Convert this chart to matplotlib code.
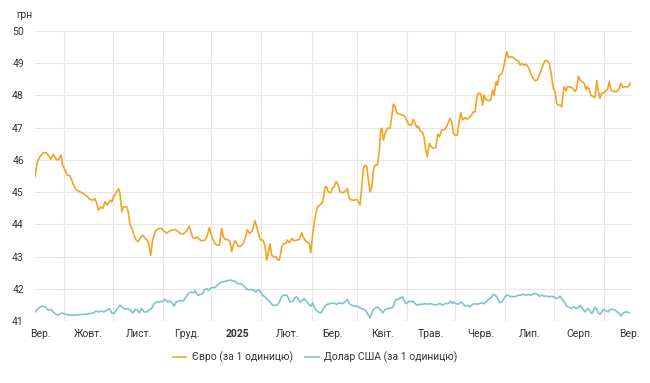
import numpy as np
import matplotlib
matplotlib.use("Agg")
import matplotlib.pyplot as plt
import matplotlib.dates as mdates
from matplotlib.lines import Line2D
import datetime as dt

plt.rcParams['font.family'] = ['Roboto', 'DejaVu Sans']

# days since 2024-09-01 and rate values (UAH)
euro_days = [-3.1, -1.7, 0, 2.0, 4.1, 5.8, 6.6, 8.2, 9.9, 11.3, 13.0, 14.0, 15.5, 16.9, 18.6, 19.6, 21.0, 22.7,
             24.8, 26.8, 28.9, 30.9, 33.0, 34.0, 35.1, 36.1, 37.6, 38.8, 40.2, 41.6, 43.3, 44.4, 45.4, 47.0, 48.5,
             49.5, 50.6, 51.5, 53.7, 54.6, 55.7, 56.7, 58.2, 59.4, 60.8, 62.3, 63.9, 65.0, 66.4, 67.6, 68.5, 69.7,
             71.2, 73.2, 75.3, 76.3, 77.4, 78.4, 79.4, 81.5, 83.5, 85.6, 86.6, 88.7, 90.8, 92.4, 93.3, 94.5, 95.9,
             97.3, 98.6, 100.1, 102.1, 103.2, 104.8, 106.3, 107.2, 108.3, 109.7, 111.0, 112.4, 113.4, 114.5, 115.9,
             117.6, 118.6, 119.6, 120.7, 121.7, 122.7, 124.2, 125.8, 127.5, 128.3, 129.5, 131.0, 132.0, 133.0,
             134.1, 135.1, 136.1, 137.8, 139.2, 140.3, 141.3, 142.3, 143.4, 144.8, 146.0, 146.8, 148.1, 149.6,
             150.6, 152.2, 153.0, 154.3, 155.8, 157.2, 158.8, 160.5, 161.9, 162.9, 164.0, 165.0, 166.6, 167.5,
             168.8, 170.2, 171.6, 173.3, 175.0, 176.4, 177.4, 178.4, 179.9, 181.1, 182.1, 183.2, 184.2, 185.6,
             187.3, 188.7, 190.2, 191.4, 192.9, 194.3, 196.0, 197.0, 198.0, 199.1, 200.1, 201.1, 202.2, 203.2,
             204.2, 205.3, 206.3, 207.4, 208.8, 210.0, 210.8, 211.5, 212.5, 213.5, 214.9, 216.6, 217.6, 218.7,
             219.7, 220.7, 222.3, 224.4, 225.9, 227.3, 228.5, 230.0, 231.0, 232.1, 233.1, 234.1, 235.1, 236.4,
             237.6, 238.7, 239.7, 240.9, 242.0, 243.4, 245.0, 246.1, 247.1, 248.6, 250.6, 252.0, 253.7, 254.8,
             255.8, 256.8, 258.2, 259.5, 260.3, 261.6, 263.0, 264.0, 265.7, 267.1, 268.1, 269.2, 270.2, 271.2,
             272.7, 273.9, 274.8, 276.0, 277.4, 278.9, 280.1, 280.9, 282.2, 283.0, 284.2, 285.7, 286.7, 287.7,
             288.8, 289.8, 291.3, 292.9, 294.6, 296.0, 297.0, 298.1, 299.5, 300.7, 302.2, 303.2, 304.9, 306.3,
             307.7, 309.4, 311.1, 312.5, 313.9, 315.2, 316.6, 317.6, 318.7, 319.7, 320.7, 321.8, 322.8, 323.5,
             324.3, 325.5, 326.3, 328.0, 329.6, 331.1, 332.1, 333.1, 334.2, 335.2, 336.6, 337.9, 338.7, 339.9,
             340.8, 342.4, 343.4, 344.5, 345.5, 346.5, 347.6, 348.6, 349.6, 351.1, 352.3, 353.2, 354.8, 356.9,
             358.5, 359.4, 360.6, 362.0, 364.1, 365.1]
euro_vals = [45.48, 45.94, 46.10, 46.22, 46.22, 46.10, 46.02, 46.18, 46.02, 46.00, 46.15, 45.84, 45.68, 45.53,
             45.50, 45.37, 45.19, 45.06, 45.01, 44.96, 44.88, 44.77, 44.75, 44.80, 44.65, 44.44, 44.54, 44.49,
             44.70, 44.60, 44.75, 44.70, 44.85, 44.96, 45.11, 44.96, 44.39, 44.54, 44.54, 44.39, 43.98, 43.90,
             43.66, 43.51, 43.46, 43.61, 43.66, 43.56, 43.51, 43.32, 43.04, 43.51, 43.77, 43.87, 43.87, 43.80,
             43.77, 43.72, 43.77, 43.82, 43.84, 43.77, 43.72, 43.70, 43.80, 43.94, 43.77, 43.59, 43.56, 43.61,
             43.53, 43.49, 43.51, 43.61, 43.90, 43.61, 43.51, 43.39, 43.35, 43.35, 43.87, 43.61, 43.53, 43.53,
             43.46, 43.15, 43.35, 43.49, 43.41, 43.32, 43.32, 43.41, 43.66, 43.84, 43.72, 43.77, 43.92, 44.11,
             43.92, 43.74, 43.53, 43.51, 43.35, 42.89, 43.15, 43.39, 43.04, 42.99, 42.99, 42.91, 42.89, 43.30,
             43.39, 43.41, 43.51, 43.43, 43.56, 43.49, 43.51, 43.53, 43.74, 43.61, 43.51, 43.46, 43.41, 43.12,
             43.72, 44.22, 44.54, 44.60, 44.70, 45.16, 45.16, 45.01, 44.98, 45.14, 45.16, 45.32, 45.27, 45.01,
             44.98, 45.01, 45.11, 44.80, 44.75, 44.75, 44.77, 44.70, 44.60, 45.17, 45.74, 45.84, 45.79, 45.37,
             45.01, 45.17, 45.68, 45.84, 45.84, 46.30, 46.93, 46.98, 46.61, 46.82, 46.98, 46.98, 47.34, 47.73,
             47.65, 47.46, 47.42, 47.39, 47.34, 47.18, 47.08, 47.08, 47.26, 47.13, 47.01, 47.05, 46.90, 46.87,
             46.72, 46.30, 46.10, 46.51, 46.41, 46.36, 46.39, 46.80, 46.72, 46.93, 46.95, 47.08, 47.29, 47.18,
             46.82, 46.77, 46.77, 47.24, 47.46, 47.24, 47.32, 47.26, 47.32, 47.39, 47.49, 47.49, 47.91, 48.07,
             48.05, 47.70, 48.01, 47.86, 47.84, 47.86, 48.17, 48.01, 48.43, 48.32, 48.63, 48.68, 48.84, 49.10,
             49.36, 49.18, 49.20, 49.18, 49.10, 49.08, 48.94, 48.99, 48.94, 48.97, 48.87, 48.74, 48.53, 48.46,
             48.48, 48.69, 48.94, 49.08, 49.08, 48.98, 48.58, 48.22, 48.12, 47.75, 47.70, 47.70, 47.65, 48.01,
             48.27, 48.14, 48.27, 48.27, 48.22, 48.12, 48.22, 48.60, 48.48, 48.43, 48.38, 48.19, 48.27, 48.17,
             48.01, 47.96, 47.94, 48.46, 48.12, 47.91, 48.07, 48.07, 48.12, 48.19, 48.43, 48.17, 48.12, 48.12,
             48.22, 48.38, 48.25, 48.27, 48.27, 48.38]

usd_days = [-3.1, -1.1, 1.1, 3.1, 5.1, 6.6, 8.2, 9.9, 11.3, 13.4, 15.5, 18.6, 21.7, 24.8, 27.8, 30.9, 33.0, 34.7,
            36.1, 38.2, 39.6, 41.6, 42.9, 44.4, 45.8, 47.5, 49.5, 51.2, 52.6, 54.0, 55.7, 57.4, 58.8, 60.2, 61.4,
            62.9, 64.4, 66.0, 67.6, 69.1, 70.5, 72.2, 74.3, 75.9, 77.4, 78.8, 80.4, 82.1, 82.9, 84.2, 85.6, 87.1,
            88.7, 90.3, 91.8, 93.3, 94.8, 95.9, 97.0, 98.0, 99.4, 100.7, 101.5, 103.2, 104.2, 105.2, 106.9, 108.3,
            109.7, 111.4, 113.1, 115.1, 117.6, 120.0, 121.3, 122.1, 123.8, 124.8, 125.8, 127.5, 128.9, 130.4,
            132.0, 133.7, 135.1, 136.6, 137.8, 139.2, 140.6, 142.3, 144.0, 145.4, 146.8, 148.1, 149.6, 151.0,
            152.7, 153.7, 154.7, 156.4, 157.8, 158.8, 159.8, 160.9, 161.9, 163.4, 164.6, 166.0, 167.5, 168.8,
            169.6, 170.8, 172.2, 173.7, 174.9, 176.4, 177.8, 179.5, 181.5, 183.6, 185.2, 187.3, 188.7, 190.2,
            191.4, 192.9, 194.3, 196.0, 197.6, 199.1, 200.5, 201.7, 203.2, 204.2, 205.3, 206.3, 207.9, 209.3,
            210.8, 212.1, 213.5, 214.9, 216.6, 218.3, 219.1, 220.3, 221.7, 223.2, 224.4, 225.2, 226.5, 227.9,
            229.0, 230.0, 231.0, 232.1, 233.5, 235.1, 236.8, 238.2, 239.7, 241.3, 243.0, 244.4, 245.9, 247.5,
            249.2, 250.6, 252.0, 253.3, 254.1, 255.4, 256.2, 257.4, 258.9, 260.3, 261.6, 263.0, 264.4, 265.7,
            267.1, 268.6, 270.2, 271.8, 273.3, 274.8, 276.0, 277.4, 278.5, 279.5, 280.5, 281.6, 282.6, 283.6,
            284.7, 285.7, 286.7, 287.7, 288.8, 289.8, 290.8, 291.9, 292.9, 294.6, 296.0, 297.5, 299.1, 300.7,
            302.2, 303.2, 304.9, 306.3, 307.7, 309.0, 310.5, 311.9, 313.6, 315.2, 316.6, 318.1, 319.3, 320.7,
            321.8, 322.8, 323.8, 324.8, 325.9, 327.5, 329.0, 330.4, 331.7, 333.1, 334.2, 335.2, 336.2, 337.3,
            338.3, 339.3, 340.3, 341.4, 342.4, 343.4, 344.5, 345.5, 346.5, 347.6, 348.6, 350.3, 351.7, 352.7,
            354.4, 355.8, 357.2, 358.5, 359.4, 360.6, 362.0, 363.4, 364.6]
usd_vals = [41.28, 41.39, 41.46, 41.44, 41.34, 41.36, 41.28, 41.21, 41.18, 41.25, 41.21, 41.18, 41.18, 41.20,
            41.21, 41.23, 41.25, 41.31, 41.28, 41.31, 41.28, 41.34, 41.39, 41.25, 41.23, 41.36, 41.49, 41.42,
            41.36, 41.39, 41.34, 41.25, 41.36, 41.34, 41.25, 41.39, 41.28, 41.28, 41.34, 41.39, 41.54, 41.59,
            41.59, 41.62, 41.67, 41.59, 41.62, 41.54, 41.46, 41.59, 41.62, 41.64, 41.62, 41.75, 41.85, 41.90,
            41.87, 41.94, 41.83, 41.80, 41.83, 41.85, 41.96, 42.01, 41.94, 42.01, 42.04, 42.04, 42.11, 42.19,
            42.21, 42.24, 42.27, 42.24, 42.21, 42.16, 42.16, 42.14, 42.11, 42.01, 41.96, 41.98, 41.96, 41.90,
            41.98, 41.90, 41.80, 41.75, 41.67, 41.59, 41.49, 41.49, 41.49, 41.59, 41.77, 41.80, 41.80, 41.70,
            41.59, 41.62, 41.73, 41.75, 41.67, 41.59, 41.62, 41.70, 41.62, 41.54, 41.46, 41.57, 41.44, 41.34,
            41.28, 41.25, 41.34, 41.46, 41.52, 41.54, 41.56, 41.52, 41.56, 41.54, 41.59, 41.67, 41.54, 41.49,
            41.46, 41.46, 41.42, 41.39, 41.36, 41.31, 41.18, 41.10, 41.23, 41.36, 41.42, 41.42, 41.34, 41.25,
            41.36, 41.39, 41.39, 41.42, 41.54, 41.67, 41.67, 41.73, 41.75, 41.64, 41.54, 41.59, 41.62, 41.59,
            41.62, 41.54, 41.49, 41.52, 41.52, 41.54, 41.52, 41.54, 41.52, 41.49, 41.52, 41.54, 41.49, 41.54,
            41.54, 41.56, 41.62, 41.54, 41.59, 41.54, 41.52, 41.59, 41.54, 41.46, 41.49, 41.44, 41.49, 41.54,
            41.52, 41.54, 41.56, 41.54, 41.59, 41.67, 41.70, 41.75, 41.83, 41.80, 41.75, 41.64, 41.57, 41.59,
            41.67, 41.75, 41.80, 41.80, 41.75, 41.77, 41.75, 41.77, 41.80, 41.80, 41.83, 41.80, 41.83, 41.80,
            41.83, 41.85, 41.83, 41.77, 41.80, 41.77, 41.77, 41.75, 41.77, 41.75, 41.70, 41.73, 41.77, 41.70,
            41.62, 41.57, 41.46, 41.42, 41.39, 41.44, 41.39, 41.42, 41.49, 41.42, 41.34, 41.28, 41.36, 41.39,
            41.31, 41.23, 41.31, 41.42, 41.36, 41.25, 41.21, 41.28, 41.36, 41.31, 41.28, 41.36, 41.36, 41.34,
            41.28, 41.23, 41.15, 41.23, 41.28, 41.28, 41.25]

month_labels = ["Вер.", "Жовт.", "Лист.", "Груд.", "2025", "Лют.", "Бер.", "Квіт.",
                "Трав.", "Черв.", "Лип.", "Серп.", "Вер."]
y_ticks = [41, 42, 43, 44, 45, 46, 47, 48, 49, 50]
series_names = ["Євро (за 1 одиницю)", "Долар США (за 1 одиницю)"]

EURO_C = "#F2A422"
USD_C = "#7DC6C8"
TXT = "#333333"
GRID = "#E6E6E6"

base = mdates.date2num(dt.datetime(2024, 9, 1))
ex = base + np.array(euro_days)
ux = base + np.array(usd_days)

fig = plt.figure(figsize=(6.5, 3.83), dpi=100)
ax = fig.add_axes([35 / 650, 62 / 383, 597 / 650, 290 / 383])

ax.plot(ex, euro_vals, color=EURO_C, lw=1.2, solid_joinstyle='round', zorder=3)
ax.plot(ux, usd_vals, color=USD_C, lw=1.2, solid_joinstyle='round', zorder=3)

ax.set_ylim(41, 50)
ax.set_xlim(base - 3.1, base + 366.3)

month_starts = [mdates.date2num(dt.datetime(2024 + (8 + i) // 12, (8 + i) % 12 + 1, 1)) for i in range(13)]
mid_months = [mdates.date2num(dt.datetime(2024 + (8 + i) // 12, (8 + i) % 12 + 1, 16)) for i in range(12)]

ax.set_xticks(month_starts)
ax.set_xticklabels(month_labels)
for lbl in ax.get_xticklabels():
    if lbl.get_text() == "2025":
        lbl.set_fontweight("bold")
ax.set_yticks(y_ticks)
ax.set_yticklabels([str(v) for v in y_ticks])

for v in y_ticks:
    ax.axhline(v, color=GRID, lw=0.8, zorder=1)
for m in mid_months:
    ax.axvline(m, color=GRID, lw=0.8, zorder=1)

ax.tick_params(axis='both', length=0, labelsize=7.5, colors=TXT)
ax.tick_params(axis='x', pad=6)
ax.tick_params(axis='y', pad=8)
for s in ax.spines.values():
    s.set_visible(False)

fig.text(16 / 650, 1 - 15 / 383, "грн", fontsize=7.5, color=TXT, ha='left', va='center')

handles = [Line2D([0], [0], color=EURO_C, lw=1.2), Line2D([0], [0], color=USD_C, lw=1.2)]
fig.legend(handles, series_names, loc='center', bbox_to_anchor=(315 / 650, 1 - 357 / 383),
           ncol=2, frameon=False, fontsize=7.5, handlelength=1.3, handletextpad=0.5,
           columnspacing=1.2, labelcolor=TXT)

fig.savefig("out.png", dpi=100, facecolor="white")
